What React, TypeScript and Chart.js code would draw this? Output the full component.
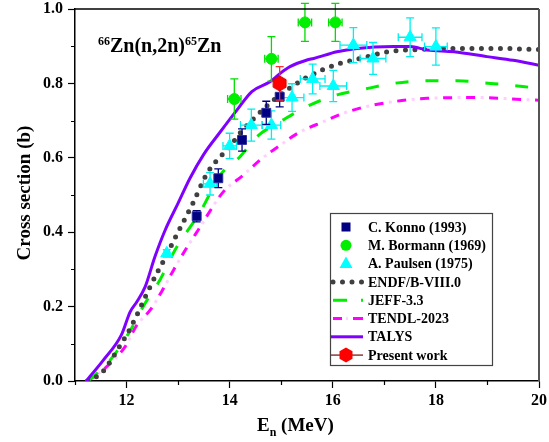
import React, { useEffect, useRef } from 'react';
import { Chart, registerables } from 'chart.js';

Chart.register(...registerables);

const FONT = '"Liberation Serif", "Times New Roman", serif';

// ---- axis ticks ----
const xTickValues = [12, 14, 16, 18, 20];
const yTickValues = [0, 0.2, 0.4, 0.6, 0.8, 1.0];
const xMinorTicks = [11, 13, 15, 17, 19];
const yMinorTicks = [0.1, 0.3, 0.5, 0.7, 0.9];

// ---- experimental data ----
const konnoE = [13.36, 13.78, 14.24, 14.71, 14.97];
const konnoXS = [0.443, 0.545, 0.648, 0.721, 0.764];
const konnoErr = [0.015, 0.025, 0.03, 0.031, 0.027];

const bormannE = [14.09, 14.81, 15.46, 16.05];
const bormannXS = [0.758, 0.866, 0.964, 0.964];
const bormannErr = [0.054, 0.06, 0.051, 0.051];
const bormannEErr = [0.13, 0.13, 0.13, 0.13];

const paulsenE = [12.78, 13.62, 14.0, 14.42, 14.81, 15.21, 15.61, 16.01, 16.4, 16.78, 17.5, 18.0];
const paulsenXS = [0.343, 0.53, 0.632, 0.688, 0.688, 0.762, 0.812, 0.793, 0.903, 0.867, 0.924, 0.899];
const paulsenErr = [0.01, 0.03, 0.034, 0.043, 0.038, 0.037, 0.04, 0.042, 0.047, 0.043, 0.052, 0.05];
const paulsenEErr = [0.05, 0.13, 0.13, 0.21, 0.18, 0.23, 0.24, 0.26, 0.26, 0.25, 0.23, 0.22];

const presentE = [14.97];
const presentXS = [0.80];
const presentErr = [0.045];

// ---- evaluated / calculated curves ----
const endfE = [11.25, 11.42, 11.55, 11.87, 12.07, 12.24, 12.4, 12.57, 12.78, 12.92, 13.28, 13.57, 13.88, 14.01, 14.24, 14.5, 14.79, 15.11, 15.43, 15.79, 16.15, 16.53, 17.08, 17.63, 18.41, 19.19, 20.0];
const endfXS = [0.0, 0.012, 0.027, 0.094, 0.141, 0.189, 0.237, 0.285, 0.339, 0.379, 0.476, 0.56, 0.612, 0.632, 0.673, 0.71, 0.748, 0.782, 0.811, 0.836, 0.854, 0.867, 0.885, 0.891, 0.894, 0.894, 0.891];

const jeffE = [11.25, 11.36, 11.71, 12.04, 12.36, 12.65, 12.94, 13.43, 13.82, 14.2, 14.53, 15.04, 15.5, 16.08, 16.53, 17.18, 17.83, 18.41, 19.06, 20.0];
const jeffXS = [0.0, 0.012, 0.061, 0.128, 0.209, 0.272, 0.352, 0.455, 0.554, 0.603, 0.657, 0.702, 0.738, 0.769, 0.782, 0.8, 0.807, 0.807, 0.8, 0.787];

const tendlE = [11.2, 11.26, 11.61, 11.97, 12.2, 12.46, 12.68, 12.91, 13.14, 13.39, 13.88, 14.27, 14.59, 14.98, 15.37, 15.82, 16.21, 16.66, 17.18, 17.83, 18.8, 19.64, 20.0];
const tendlXS = [0.0, 0.003, 0.038, 0.092, 0.15, 0.191, 0.24, 0.298, 0.352, 0.406, 0.509, 0.554, 0.594, 0.634, 0.67, 0.697, 0.72, 0.738, 0.751, 0.76, 0.762, 0.757, 0.755];

const talysE = [11.22, 11.29, 11.55, 11.9, 12.07, 12.2, 12.36, 12.55, 12.75, 13.0, 13.23, 13.5, 13.82, 14.14, 14.43, 14.79, 14.98, 15.17, 15.5, 15.63, 16.08, 16.47, 17.18, 17.5, 17.83, 18.35, 18.99, 19.5, 20.0];
const talysXS = [0.0, 0.012, 0.056, 0.124, 0.186, 0.213, 0.253, 0.334, 0.406, 0.478, 0.545, 0.61, 0.67, 0.728, 0.778, 0.805, 0.827, 0.845, 0.863, 0.867, 0.885, 0.894, 0.899, 0.899, 0.89, 0.885, 0.872, 0.862, 0.849];

const legendLabels = [
  'C. Konno (1993)',
  'M. Bormann (1969)',
  'A. Paulsen (1975)',
  'ENDF/B-VIII.0',
  'JEFF-3.3',
  'TENDL-2023',
  'TALYS',
  'Present work',
];

const pts = (xs: number[], ys: number[]) => xs.map((x, i) => ({ x, y: ys[i] }));

function hexPath(ctx: CanvasRenderingContext2D, cx: number, cy: number, r: number) {
  ctx.beginPath();
  for (let k = 0; k < 6; k++) {
    const a = -Math.PI / 2 + (k * Math.PI) / 3;
    const px = cx + r * Math.cos(a);
    const py = cy + r * Math.sin(a);
    if (k === 0) ctx.moveTo(px, py);
    else ctx.lineTo(px, py);
  }
  ctx.closePath();
}

function makeHexagon(r: number, fill: string, stroke: string) {
  const c = document.createElement('canvas');
  const s = Math.ceil(r * 2 + 4);
  c.width = s;
  c.height = s;
  const ctx = c.getContext('2d')!;
  hexPath(ctx, s / 2, s / 2, r);
  ctx.fillStyle = fill;
  ctx.fill();
  ctx.lineWidth = 1;
  ctx.strokeStyle = stroke;
  ctx.stroke();
  return c;
}

const errorBarPlugin = {
  id: 'errorBars',
  beforeDatasetDraw(chart: any, args: any) {
    const ds = chart.data.datasets[args.index];
    if (!ds.errY) return;
    const xs = chart.scales.x;
    const ys = chart.scales.y;
    const ctx = chart.ctx;
    ctx.save();
    ctx.strokeStyle = ds.errColor;
    ctx.lineWidth = 1.3;
    const cap = 4;
    ds.data.forEach((p: any, i: number) => {
      const px = xs.getPixelForValue(p.x);
      const y1 = ys.getPixelForValue(p.y + ds.errY[i]);
      const y2 = ys.getPixelForValue(p.y - ds.errY[i]);
      const py = ys.getPixelForValue(p.y);
      ctx.beginPath();
      ctx.moveTo(px, y1);
      ctx.lineTo(px, y2);
      ctx.moveTo(px - cap, y1);
      ctx.lineTo(px + cap, y1);
      ctx.moveTo(px - cap, y2);
      ctx.lineTo(px + cap, y2);
      if (ds.errX) {
        const x1 = xs.getPixelForValue(p.x - ds.errX[i]);
        const x2 = xs.getPixelForValue(p.x + ds.errX[i]);
        ctx.moveTo(x1, py);
        ctx.lineTo(x2, py);
        ctx.moveTo(x1, py - cap);
        ctx.lineTo(x1, py + cap);
        ctx.moveTo(x2, py - cap);
        ctx.lineTo(x2, py + cap);
      }
      ctx.stroke();
    });
    ctx.restore();
  },
};

const decorPlugin = {
  id: 'decor',
  afterDraw(chart: any) {
    const ctx = chart.ctx as CanvasRenderingContext2D;
    const { left, right, top, bottom } = chart.chartArea;
    const xs = chart.scales.x;
    const ys = chart.scales.y;
    ctx.save();
    // frame top & right
    ctx.strokeStyle = '#000';
    ctx.lineWidth = 1.5;
    ctx.beginPath();
    ctx.moveTo(left, top);
    ctx.lineTo(right, top);
    ctx.stroke();
    ctx.strokeStyle = '#555';
    ctx.lineWidth = 2;
    ctx.beginPath();
    ctx.moveTo(right, top);
    ctx.lineTo(right, bottom);
    ctx.stroke();
    // minor ticks
    ctx.strokeStyle = '#000';
    ctx.lineWidth = 1.2;
    ctx.beginPath();
    yMinorTicks.forEach((v) => {
      const py = Math.round(ys.getPixelForValue(v)) + 0.5;
      ctx.moveTo(left - 4, py);
      ctx.lineTo(left, py);
    });
    xMinorTicks.forEach((v) => {
      const px = Math.round(xs.getPixelForValue(v)) + 0.5;
      ctx.moveTo(px, bottom);
      ctx.lineTo(px, bottom + 4);
    });
    ctx.stroke();

    // reaction label
    ctx.fillStyle = '#000';
    ctx.textBaseline = 'alphabetic';
    ctx.textAlign = 'left';
    let tx = 98;
    const base = 52;
    const parts: [string, boolean][] = [['66', true], ['Zn(n,2n)', false], ['65', true], ['Zn', false]];
    parts.forEach(([t, sup]) => {
      ctx.font = sup ? `bold 12px ${FONT}` : `bold 20px ${FONT}`;
      ctx.fillText(t, tx, sup ? base - 7 : base);
      tx += ctx.measureText(t).width;
    });

    // x title  E_n (MeV)
    let ex = 257;
    const eb = 431;
    ctx.font = `bold 19px ${FONT}`;
    ctx.fillText('E', ex, eb);
    ex += ctx.measureText('E').width;
    ctx.font = `bold 12px ${FONT}`;
    ctx.fillText('n', ex, eb + 5);
    ex += ctx.measureText('n').width;
    ctx.font = `bold 19px ${FONT}`;
    ctx.fillText(' (MeV)', ex, eb);

    // y title
    ctx.save();
    ctx.translate(25, 193);
    ctx.rotate(-Math.PI / 2);
    ctx.textAlign = 'center';
    ctx.textBaseline = 'middle';
    ctx.font = `bold 19px ${FONT}`;
    ctx.fillText('Cross section (b)', 0, 0);
    ctx.restore();

    // legend
    const bx = 330, by = 213, bw = 162, bh = 152;
    ctx.fillStyle = '#fff';
    ctx.fillRect(bx, by, bw, bh);
    ctx.strokeStyle = '#444';
    ctx.lineWidth = 1.2;
    ctx.strokeRect(bx + 0.5, by + 0.5, bw, bh);
    const rowY = (i: number) => 227 + i * 18.3;
    const sx = 346;
    const l0 = 331, l1 = 363;
    legendLabels.forEach((label, i) => {
      const y = rowY(i);
      ctx.save();
      if (i === 0) {
        ctx.fillStyle = '#000080';
        ctx.fillRect(sx - 4.5, y - 4.5, 9, 9);
      } else if (i === 1) {
        ctx.fillStyle = '#00ee00';
        ctx.beginPath();
        ctx.arc(sx, y, 5.5, 0, Math.PI * 2);
        ctx.fill();
      } else if (i === 2) {
        ctx.fillStyle = '#00ffff';
        ctx.beginPath();
        ctx.moveTo(sx, y - 7);
        ctx.lineTo(sx + 6.5, y + 4.5);
        ctx.lineTo(sx - 6.5, y + 4.5);
        ctx.closePath();
        ctx.fill();
      } else if (i === 3) {
        ctx.strokeStyle = '#404040';
        ctx.lineWidth = 5;
        ctx.lineCap = 'round';
        ctx.setLineDash([0, 9.5]);
        ctx.beginPath();
        ctx.moveTo(l0 + 2, y);
        ctx.lineTo(l1, y);
        ctx.stroke();
      } else if (i === 4) {
        ctx.strokeStyle = '#00ee00';
        ctx.lineWidth = 3;
        ctx.beginPath();
        ctx.moveTo(l0 + 2, y);
        ctx.lineTo(l0 + 16, y);
        ctx.moveTo(l1 - 2, y);
        ctx.lineTo(l1, y);
        ctx.stroke();
      } else if (i === 5) {
        ctx.strokeStyle = '#ff00ff';
        ctx.lineWidth = 3;
        ctx.beginPath();
        ctx.moveTo(l0 + 2, y);
        ctx.lineTo(l0 + 11, y);
        ctx.moveTo(l1 - 10, y);
        ctx.lineTo(l1, y);
        ctx.stroke();
        ctx.strokeStyle = '#ffd6ff';
        ctx.beginPath();
        ctx.moveTo(sx, y);
        ctx.lineTo(sx + 2, y);
        ctx.stroke();
      } else if (i === 6) {
        ctx.strokeStyle = '#7f00ff';
        ctx.lineWidth = 3;
        ctx.beginPath();
        ctx.moveTo(l0, y);
        ctx.lineTo(l1, y);
        ctx.stroke();
      } else if (i === 7) {
        ctx.strokeStyle = '#8b3a3a';
        ctx.lineWidth = 1.5;
        ctx.beginPath();
        ctx.moveTo(l0, y);
        ctx.lineTo(l1, y);
        ctx.stroke();
        hexPath(ctx, sx, y, 7.5);
        ctx.fillStyle = '#ff0000';
        ctx.fill();
      }
      ctx.restore();
      ctx.fillStyle = '#000';
      ctx.font = `bold 14px ${FONT}`;
      ctx.textAlign = 'left';
      ctx.textBaseline = 'middle';
      ctx.fillText(label, 368, y + 1);
    });
    ctx.restore();
  },
};

export default function App() {
  const ref = useRef<HTMLCanvasElement>(null);
  useEffect(() => {
    if (!ref.current) return;
    const hex = makeHexagon(7.5, '#ff0000', '#cc0000');
    const tickFont = { family: FONT, size: 16, weight: 'bold' as const };
    const chart = new Chart(ref.current, {
      type: 'line',
      data: {
        datasets: [
          {
            label: legendLabels[7],
            data: pts(presentE, presentXS),
            showLine: false,
            pointStyle: hex as any,
            pointRadius: 8,
            errY: presentErr,
            errColor: '#ff3030',
            order: 0,
          } as any,
          {
            label: legendLabels[0],
            data: pts(konnoE, konnoXS),
            showLine: false,
            pointStyle: 'rect',
            pointRadius: 6.3,
            pointBackgroundColor: '#000080',
            pointBorderColor: '#2a2aa0',
            pointBorderWidth: 1,
            errY: konnoErr,
            errColor: '#000080',
            order: 1,
          } as any,
          {
            label: legendLabels[1],
            data: pts(bormannE, bormannXS),
            showLine: false,
            pointStyle: 'circle',
            pointRadius: 5.5,
            pointBackgroundColor: '#00ee00',
            pointBorderColor: '#00ee00',
            errY: bormannErr,
            errX: bormannEErr,
            errColor: '#00dd00',
            order: 2,
          } as any,
          {
            label: legendLabels[2],
            data: pts(paulsenE, paulsenXS),
            showLine: false,
            pointStyle: 'triangle',
            pointRadius: 7,
            pointBackgroundColor: '#00ffff',
            pointBorderColor: '#00ffff',
            errY: paulsenErr,
            errX: paulsenEErr,
            errColor: '#00eeee',
            order: 3,
          } as any,
          {
            label: legendLabels[6],
            data: pts(talysE, talysXS),
            borderColor: '#7f00ff',
            borderWidth: 3,
            pointRadius: 0,
            tension: 0,
            cubicInterpolationMode: 'monotone',
            order: 4,
          } as any,
          {
            label: legendLabels[3],
            data: pts(endfE, endfXS),
            borderColor: '#404040',
            borderWidth: 5,
            borderDash: [0, 9.5],
            borderCapStyle: 'round',
            pointRadius: 0,
            cubicInterpolationMode: 'monotone',
            order: 5,
          } as any,
          {
            label: legendLabels[4],
            data: pts(jeffE, jeffXS),
            borderColor: '#00ee00',
            borderWidth: 3,
            borderDash: [13, 17],
            pointRadius: 0,
            cubicInterpolationMode: 'monotone',
            order: 6,
          } as any,
          {
            label: legendLabels[5],
            data: pts(tendlE, tendlXS),
            borderColor: '#ff00ff',
            borderWidth: 3,
            borderDash: [9, 14],
            pointRadius: 0,
            cubicInterpolationMode: 'monotone',
            order: 7,
          } as any,
          {
            label: 'TENDL-2023 dots',
            data: pts(tendlE, tendlXS),
            borderColor: '#ffd0ff',
            borderWidth: 3,
            borderDash: [3, 20],
            borderDashOffset: 8.5,
            pointRadius: 0,
            cubicInterpolationMode: 'monotone',
            order: 8,
          } as any,
        ],
      },
      options: {
        responsive: false,
        animation: false,
        layout: { padding: { left: 0, top: 9, right: 10, bottom: 0 } },
        plugins: {
          legend: { display: false },
          tooltip: { enabled: false },
          title: { display: false },
        },
        scales: {
          x: {
            type: 'linear',
            min: 11,
            max: 20,
            afterBuildTicks: (s: any) => {
              s.ticks = xTickValues.map((v) => ({ value: v }));
            },
            afterFit: (s: any) => {
              s.height = 61;
              s.paddingLeft = 0;
              s.paddingRight = 0;
            },
            grid: { drawOnChartArea: false, drawTicks: true, tickLength: 7, color: '#000', tickWidth: 1.2 },
            border: { display: true, color: '#000', width: 1.5 },
            ticks: {
              font: tickFont,
              color: '#000',
              padding: 3,
              maxRotation: 0,
              autoSkip: false,
              callback: (v: any) => String(v),
            },
          },
          y: {
            type: 'linear',
            min: 0,
            max: 1,
            afterBuildTicks: (s: any) => {
              s.ticks = yTickValues.map((v) => ({ value: v }));
            },
            afterFit: (s: any) => {
              s.width = 75;
              s.paddingTop = 0;
              s.paddingBottom = 0;
            },
            grid: { drawOnChartArea: false, drawTicks: true, tickLength: 7, color: '#000', tickWidth: 1.2 },
            border: { display: true, color: '#000', width: 1.5 },
            ticks: {
              font: tickFont,
              color: '#000',
              padding: 5,
              autoSkip: false,
              callback: (v: any) => Number(v).toFixed(1),
            },
          },
        },
      },
      plugins: [errorBarPlugin, decorPlugin],
    } as any);
    return () => chart.destroy();
  }, []);
  return (
    <div style={{ position: 'fixed', left: 0, top: 0, width: 549, height: 442, background: '#fff' }}>
      <canvas ref={ref} width={549} height={442} style={{ width: 549, height: 442, display: 'block' }} />
    </div>
  );
}
